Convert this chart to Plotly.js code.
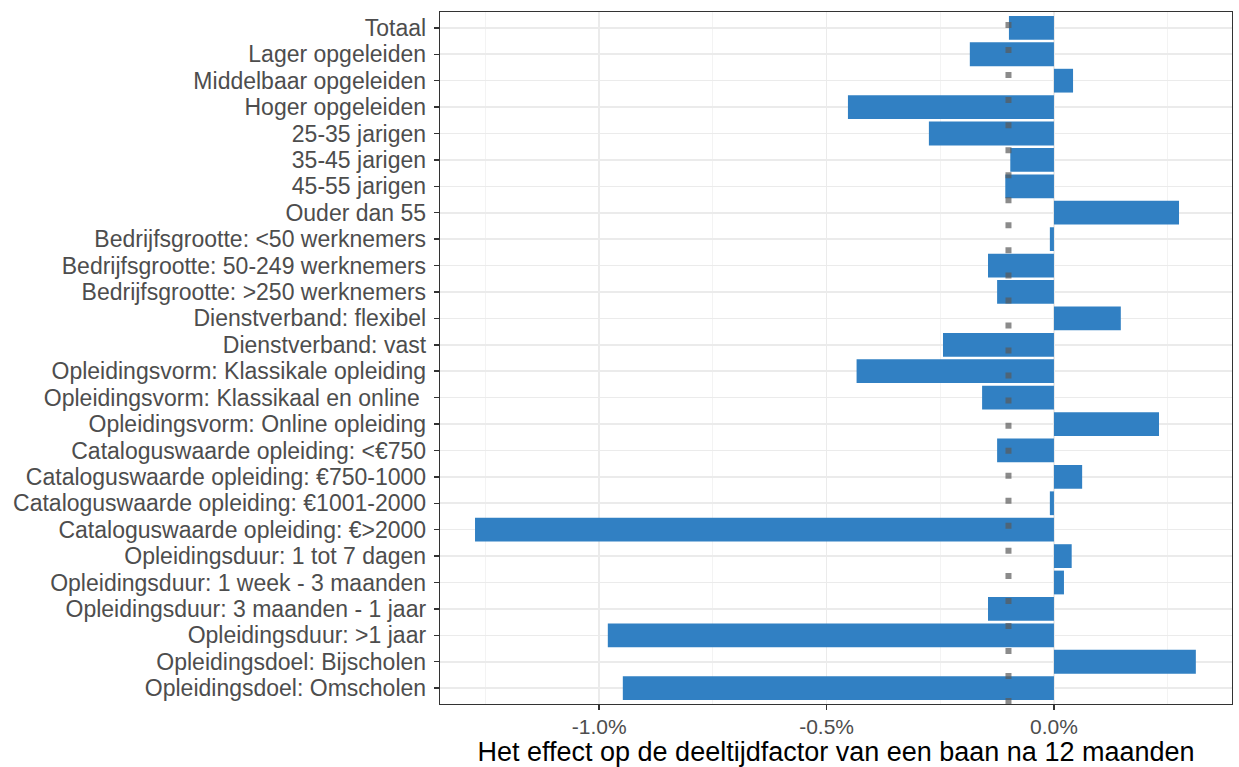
<!DOCTYPE html>
<html>
<head>
<meta charset="utf-8">
<script src="https://cdn.plot.ly/plotly-3.0.1.min.js"></script>
<style>html,body{margin:0;padding:0;background:#fff;}#chart{width:1239px;height:767px;}</style>
</head>
<body>
<div id="chart"></div>
<script>
const categories = [
  "Totaal",
  "Lager opgeleiden",
  "Middelbaar opgeleiden",
  "Hoger opgeleiden",
  "25-35 jarigen",
  "35-45 jarigen",
  "45-55 jarigen",
  "Ouder dan 55",
  "Bedrijfsgrootte: <50 werknemers",
  "Bedrijfsgrootte: 50-249 werknemers",
  "Bedrijfsgrootte: >250 werknemers",
  "Dienstverband: flexibel",
  "Dienstverband: vast",
  "Opleidingsvorm: Klassikale opleiding",
  "Opleidingsvorm: Klassikaal en online ",
  "Opleidingsvorm: Online opleiding",
  "Cataloguswaarde opleiding: <€750",
  "Cataloguswaarde opleiding: €750-1000",
  "Cataloguswaarde opleiding: €1001-2000",
  "Cataloguswaarde opleiding: €>2000",
  "Opleidingsduur: 1 tot 7 dagen",
  "Opleidingsduur: 1 week - 3 maanden",
  "Opleidingsduur: 3 maanden - 1 jaar",
  "Opleidingsduur: >1 jaar",
  "Opleidingsdoel: Bijscholen",
  "Opleidingsdoel: Omscholen"
];
// effect in percent
const effectValues = [
  -0.099, -0.185, 0.042, -0.453, -0.275, -0.096, -0.107, 0.275,
  -0.009, -0.145, -0.125, 0.147, -0.244, -0.434, -0.158, 0.231,
  -0.125, 0.062, -0.009, -1.273, 0.039, 0.022, -0.145, -0.981,
  0.312, -0.948
];
const referenceLine = -0.1;
const tickValues = [-1.0, -0.5, 0.0];
const tickLabels = ["-1.0%", "-0.5%", "0.0%"];
const minorTickValues = [-1.25, -0.75, -0.25, 0.25];
const xTitle = "Het effect op de deeltijdfactor van een baan na 12 maanden";

const trace = {
  type: "bar",
  orientation: "h",
  y: categories,
  x: effectValues,
  width: 0.9,
  marker: {color: "#3180c3", line: {width: 0}},
  hoverinfo: "x+y"
};

const layout = {
  width: 1239,
  height: 767,
  margin: {l: 440, r: 7, t: 12, b: 63},
  paper_bgcolor: "#ffffff",
  plot_bgcolor: "#ffffff",
  showlegend: false,
  font: {family: "Liberation Sans, Arial, sans-serif", color: "#4d4d4d"},
  xaxis: {
    range: [-1.350, 0.3915],
    tickmode: "array",
    tickvals: tickValues,
    ticktext: tickLabels,
    tickfont: {size: 21, color: "#4d4d4d"},
    ticks: "outside",
    ticklen: 5,
    tickwidth: 1.5,
    tickcolor: "#333333",
    ticklabelstandoff: -2,
    showgrid: true,
    gridcolor: "#ebebeb",
    gridwidth: 1.6,
    minor: {tickvals: minorTickValues, showgrid: true, gridcolor: "#f3f3f3", gridwidth: 1, ticks: ""},
    zeroline: false,
    showline: true,
    mirror: true,
    linecolor: "#333333",
    linewidth: 1.3,
    title: {text: xTitle, font: {size: 27, color: "#000000"}, standoff: 9},
    fixedrange: true
  },
  yaxis: {
    type: "category",
    range: [25.6, -0.6],
    tickmode: "array",
    tickvals: categories,
    ticktext: categories,
    tickfont: {size: 23, color: "#4d4d4d"},
    ticks: "outside",
    ticklen: 5,
    tickwidth: 1.5,
    tickcolor: "#333333",
    ticklabelstandoff: 3,
    showgrid: true,
    gridcolor: "#ebebeb",
    gridwidth: 1.6,
    zeroline: false,
    showline: true,
    mirror: true,
    linecolor: "#333333",
    linewidth: 1.3,
    fixedrange: true
  },
  bargap: 0.1,
  shapes: [{
    type: "line",
    layer: "above",
    xref: "x",
    yref: "paper",
    x0: referenceLine,
    x1: referenceLine,
    y0: 1,
    y1: 0,
    line: {color: "rgba(90,90,90,0.7)", width: 6, dash: "0px,10px,6px,9.04px"}
  }]
};

Plotly.newPlot("chart", [trace], layout, {displayModeBar: false, staticPlot: true});
</script>
</body>
</html>
